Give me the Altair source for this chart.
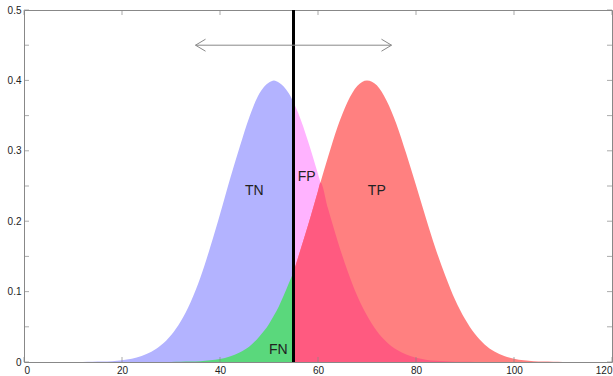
import altair as alt
import pandas as pd

# x positions (data units) at which the two curves were read
xs = [10, 12, 14, 16, 18, 20, 22, 24, 26, 28, 30, 32, 34, 36, 38, 40, 42, 44, 46, 48, 50, 51, 52, 54,
      55,
      56, 58, 60, 60.5, 62, 64, 66, 68, 70, 72, 74, 76, 78, 80, 82, 84, 86, 88, 90, 92, 94, 96, 98,
      100, 102, 104, 106, 108, 110, 112]
# negative class (blue) curve
neg = [0, 0.0001, 0.0003, 0.0006, 0.0012, 0.0025, 0.0045, 0.0085, 0.0145, 0.024, 0.038, 0.058,
       0.085, 0.12, 0.163, 0.21, 0.259, 0.305, 0.348, 0.381, 0.397, 0.4, 0.397, 0.382,
       0.369,
       0.353, 0.313, 0.267, 0.255, 0.219, 0.172, 0.13, 0.094, 0.066, 0.044, 0.0284, 0.0176, 0.0105,
       0.006, 0.0033, 0.0017, 0.0009, 0.0004, 0.0002, 0.0001, 0, 0, 0, 0, 0, 0, 0, 0, 0, 0]
# positive class (red) curve
pos = [0, 0, 0, 0, 0, 0, 0, 0, 0, 0, 0.0001, 0.0003, 0.0006, 0.0012, 0.0024, 0.0044, 0.0079,
       0.0136, 0.022, 0.036, 0.054, 0.066, 0.079, 0.111,
       0.128,
       0.15, 0.195, 0.243, 0.255, 0.29, 0.334, 0.369, 0.392, 0.4, 0.393, 0.371, 0.338, 0.296, 0.251,
       0.205, 0.161, 0.122, 0.088, 0.061, 0.04, 0.025, 0.015, 0.0085, 0.0046, 0.0024, 0.0012,
       0.0006, 0.0003, 0.0001, 0]

threshold = [55]
arrow_x = [35, 75]
arrow_y = [0.45]

labels = ["TN", "FP", "TP", "FN"]
label_x = [47.0, 57.7, 72.0, 51.9]
label_y = [0.243, 0.263, 0.243, 0.017]

x_ticks = [0, 20, 40, 60, 80, 100, 120]
y_ticks = [0, 0.05, 0.1, 0.15, 0.2, 0.25, 0.3, 0.35, 0.4, 0.45, 0.5]

W, H = 588, 352

df = pd.DataFrame({"x": xs, "neg": neg, "pos": pos})
base = alt.Chart(df)

xsc = alt.Scale(domain=[0, 120], nice=False, zero=False)
ysc = alt.Scale(domain=[0, 0.5], nice=False)
xax = alt.Axis(values=x_ticks, format="~r")
yax = alt.Axis(values=y_ticks, format="~r")

X = alt.X("x:Q", scale=xsc, axis=xax, title=None)


def area(field, cond, color):
    return base.transform_filter(cond).mark_area(color=color, opacity=1, interpolate="monotone").encode(
        x=X, y=alt.Y(f"{field}:Q", scale=ysc, axis=yax, title=None)
    )


tn = area("neg", "datum.x <= 55", "#b3b3ff")
fn = area("pos", "datum.x <= 55", "#5ad87c")
fp = area("neg", "datum.x >= 55", "#ffb3ff")
tp = area("pos", "datum.x >= 55", "#ff8080")
both = base.transform_filter("datum.x >= 55").transform_calculate(
    m="min(datum.neg, datum.pos)"
).mark_area(color="#ff5a80", opacity=1, interpolate="monotone").encode(
    x=X, y=alt.Y("m:Q", scale=ysc, axis=yax, title=None)
)

vline = alt.Chart(pd.DataFrame({"t": threshold})).mark_rule(color="black", strokeWidth=3).encode(
    x=alt.X("t:Q", scale=xsc), y=alt.value(0), y2=alt.value(H)
)

arr_df = pd.DataFrame({"x1": [arrow_x[0]], "x2": [arrow_x[1]], "y": arrow_y})
arrow_line = alt.Chart(arr_df).mark_rule(color="#888888", strokeWidth=1).encode(
    x=alt.X("x1:Q", scale=xsc), x2="x2:Q", y=alt.Y("y:Q", scale=ysc)
)
left_head = alt.Chart(arr_df).mark_point(
    shape="M1.67,-1L0,0L1.67,1", filled=False, color="#888888", strokeWidth=1, size=144, opacity=1
).encode(x=alt.X("x1:Q", scale=xsc), y=alt.Y("y:Q", scale=ysc))
right_head = alt.Chart(arr_df).mark_point(
    shape="M-1.67,-1L0,0L-1.67,1", filled=False, color="#888888", strokeWidth=1, size=144, opacity=1
).encode(x=alt.X("x2:Q", scale=xsc), y=alt.Y("y:Q", scale=ysc))

lab_df = pd.DataFrame({"l": labels, "x": label_x, "y": label_y})
texts = alt.Chart(lab_df).mark_text(
    font="Liberation Sans", fontSize=14, color="#222222", align="center", baseline="middle"
).encode(x=alt.X("x:Q", scale=xsc), y=alt.Y("y:Q", scale=ysc), text="l:N")

xt_df = pd.DataFrame({"v": x_ticks})
yt_df = pd.DataFrame({"v": y_ticks})
tick_col = "#888888"
xt_bottom = alt.Chart(xt_df).mark_tick(orient="vertical", color=tick_col, size=5, thickness=1).encode(
    x=alt.X("v:Q", scale=xsc), y=alt.value(H - 2.5)
)
xt_top = alt.Chart(xt_df).mark_tick(orient="vertical", color=tick_col, size=5, thickness=1).encode(
    x=alt.X("v:Q", scale=xsc), y=alt.value(2.5)
)
yt_left = alt.Chart(yt_df).mark_tick(orient="horizontal", color=tick_col, size=5, thickness=1).encode(
    y=alt.Y("v:Q", scale=ysc), x=alt.value(2.5)
)
yt_right = alt.Chart(yt_df).mark_tick(orient="horizontal", color=tick_col, size=5, thickness=1).encode(
    y=alt.Y("v:Q", scale=ysc), x=alt.value(W - 2.5)
)

chart = alt.layer(
    tn, fn, fp, tp, both, xt_bottom, xt_top, yt_left, yt_right,
    vline, arrow_line, left_head, right_head, texts
).properties(
    width=W, height=H,
    autosize=alt.AutoSizeParams(type="none"),
    padding={"left": 24, "top": 10, "right": 1, "bottom": 14},
    background="white",
).configure_view(
    stroke="#888888", strokeWidth=1
).configure_axis(
    domain=False, ticks=False, grid=False,
    labelFont="Liberation Sans", labelFontSize=10, labelColor="#222222",
    labelPadding=3,
)

chart.save("out.html", embed_options={"renderer": "svg", "actions": False})
